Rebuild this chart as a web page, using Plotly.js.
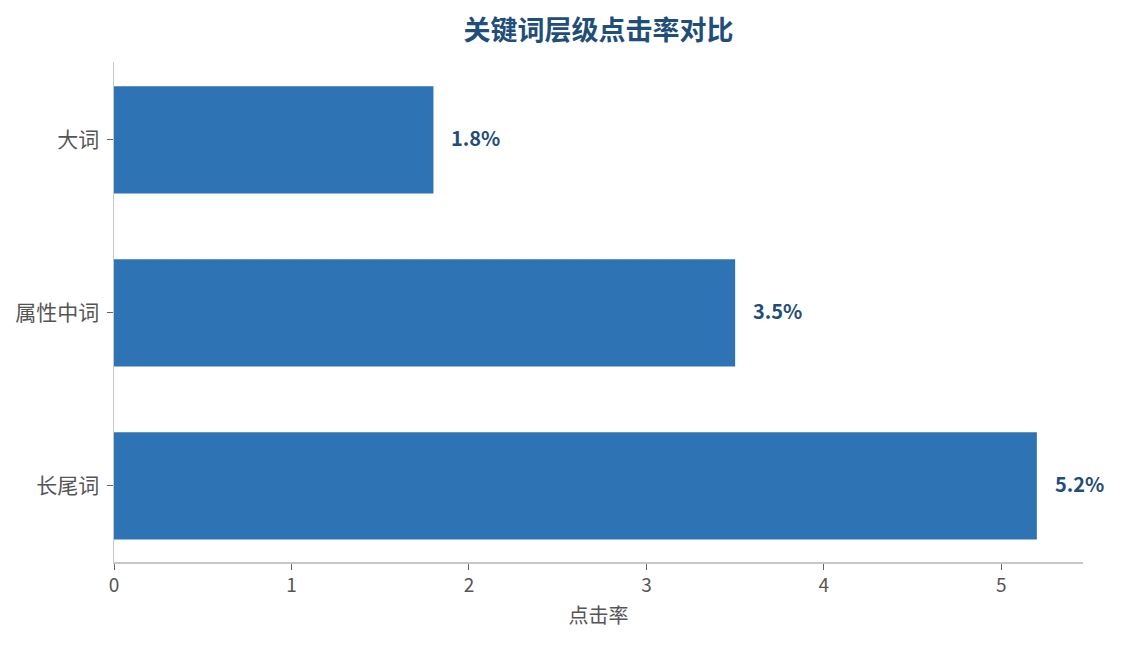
<!DOCTYPE html>
<html>
<head>
<meta charset="utf-8">
<script src="https://cdn.plot.ly/plotly-3.0.1.min.js"></script>
<style>
  html, body { margin: 0; padding: 0; background: #fff; }
  #chart { width: 1122px; height: 645px; }
</style>
</head>
<body>
<div id="chart"></div>
<script>
// keyword level click-through rates
const categories = ['长尾词', '属性中词', '大词'];
const ctrValues = [5.2, 3.5, 1.8];
const valueLabels = ['5.2%', '3.5%', '1.8%'];

const font = '"Noto Sans CJK SC", "Open Sans", sans-serif';

const trace = {
  type: 'bar',
  orientation: 'h',
  x: ctrValues,
  y: categories,
  width: 0.62,
  marker: { color: '#2E73B3' },
  hoverinfo: 'x+y'
};

const annotations = ctrValues.map((v, i) => ({
  x: v,
  y: categories[i],
  xref: 'x',
  yref: 'y',
  text: valueLabels[i],
  showarrow: false,
  xanchor: 'left',
  xshift: 16,
  yshift: 2,
  font: { family: font, size: 20, color: '#1F4E79', weight: 'bold' }
}));

const layout = {
  width: 1122,
  height: 645,
  margin: { l: 114, r: 39, t: 62, b: 83 },
  paper_bgcolor: '#fff',
  plot_bgcolor: '#fff',
  font: { family: font, size: 20, color: '#555' },
  title: {
    text: '<b>关键词层级点击率对比</b>',
    x: 0.5,
    xref: 'paper',
    y: 0.953,
    yanchor: 'middle',
    font: { family: font, size: 27, color: '#1F4E79' }
  },
  xaxis: {
    range: [0, 5.46],
    dtick: 1,
    showgrid: false,
    zeroline: false,
    showline: true,
    linecolor: '#c8c8c8',
    linewidth: 1.5,
    ticks: 'outside',
    ticklen: 6,
    tickcolor: '#666',
    tickfont: { size: 19, color: '#555' },
    title: { text: '点击率', standoff: 12, font: { size: 20, color: '#555' } }
  },
  yaxis: {
    type: 'category',
    range: [-0.44, 2.45],
    showgrid: false,
    zeroline: false,
    showline: true,
    linecolor: '#c8c8c8',
    linewidth: 1.5,
    ticks: 'outside',
    ticklen: 6,
    tickcolor: '#666',
    ticklabelstandoff: 3,
    tickfont: { size: 21, color: '#555' }
  },
  annotations: annotations,
  showlegend: false
};

Plotly.newPlot('chart', [trace], layout, { displayModeBar: false, staticPlot: true });
</script>
</body>
</html>
